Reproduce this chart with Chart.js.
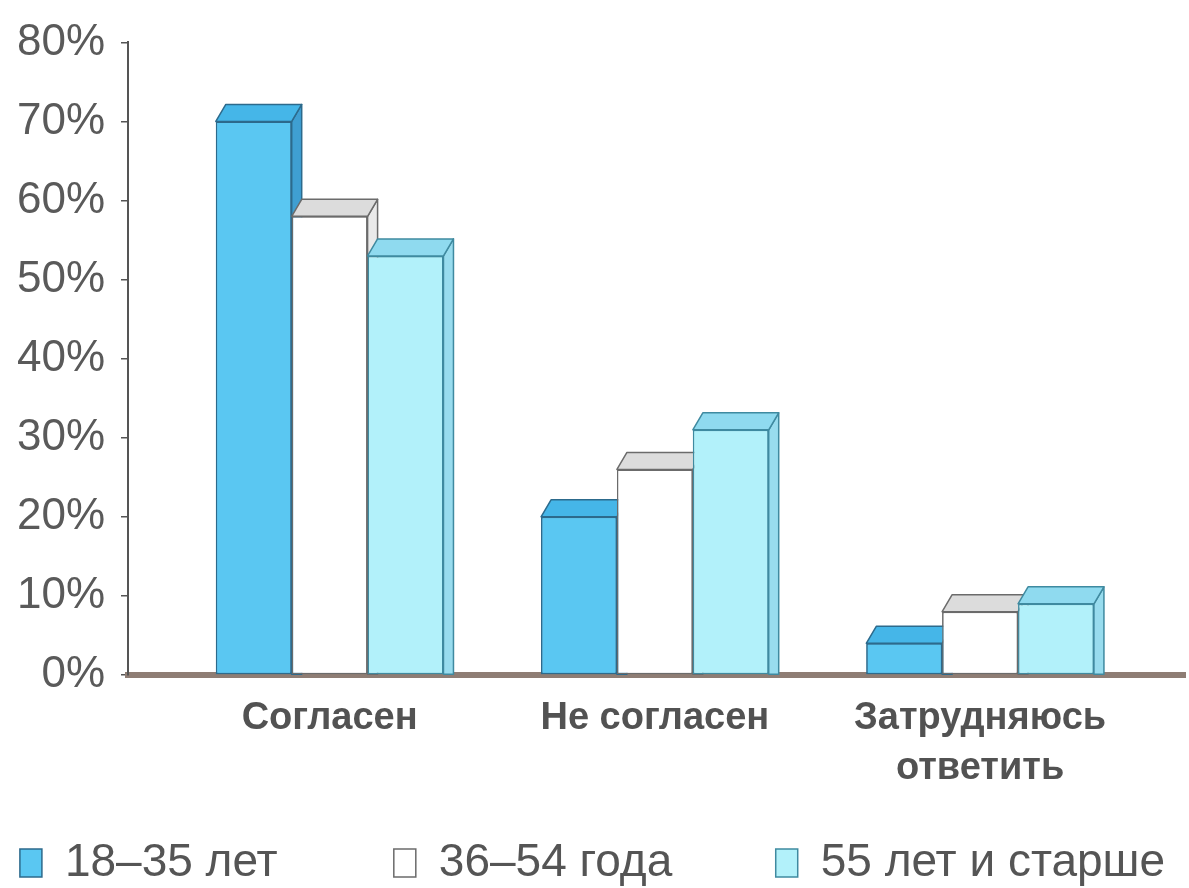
<!DOCTYPE html>
<html>
<head>
<meta charset="utf-8">
<script src="https://cdn.jsdelivr.net/npm/chart.js@4"></script>
<style>
html, body { margin: 0; padding: 0; background: #fff; }
#wrap { width: 1189px; height: 888px; }
</style>
</head>
<body>
<div id="wrap"><canvas id="myChart"></canvas></div>
<script>
// data
var categories = ['Согласен', 'Не согласен', ['Затрудняюсь', 'ответить']];
var seriesNames = ['18–35 лет', '36–54 года', '55 лет и старше'];
var age18to35 = [70, 20, 4];
var age36to54 = [58, 26, 8];
var age55plus = [53, 31, 9];
var yTicks = [0, 10, 20, 30, 40, 50, 60, 70, 80];

function points(vals) {
    return vals.map(function (v, i) { return { x: i, y: v }; });
}

// 3d look: top and side faces on each bar
var depthX = 10, depthY = 17;
var faces = [
    { top: '#45b6e8', side: '#3f9fd2' },
    { top: '#dcdcdc', side: '#eaeaea' },
    { top: '#8fdaef', side: '#98dcee' }
];
var bar3d = {
    id: 'bar3d',
    afterDatasetsDraw: function (chart) {
        var ctx = chart.ctx;
        // left to right, so each bar hides the side of the one before it
        chart.data.datasets.forEach(function (ds, i) {
            var f = faces[i];
            chart.getDatasetMeta(i).data.forEach(function (bar) {
                bar.draw(ctx);
                var p = bar.getProps(['x', 'y', 'base', 'width'], true);
                var l = p.x - p.width / 2, r = p.x + p.width / 2;
                ctx.save();
                ctx.lineWidth = 1.5;
                ctx.strokeStyle = ds.borderColor;
                ctx.lineJoin = 'round';
                //side
                ctx.beginPath();
                ctx.moveTo(r, p.y);
                ctx.lineTo(r + depthX, p.y - depthY);
                ctx.lineTo(r + depthX, p.base);
                ctx.lineTo(r, p.base);
                ctx.closePath();
                ctx.fillStyle = f.side;
                ctx.fill();
                ctx.stroke();
                //top
                ctx.beginPath();
                ctx.moveTo(l, p.y);
                ctx.lineTo(l + depthX, p.y - depthY);
                ctx.lineTo(r + depthX, p.y - depthY);
                ctx.lineTo(r, p.y);
                ctx.closePath();
                ctx.fillStyle = f.top;
                ctx.fill();
                ctx.stroke();
                ctx.restore();
            });
        });
    }
};

// legend is spread over the whole width: distance from one box to the next
var legendStep = [372, 382];
var legendFont = { family: 'Liberation Sans', size: 46 };
var legendPad = 14;

var ctx = document.getElementById('myChart').getContext('2d');

var myChart = new Chart(ctx, {
    type: 'bar',
    data: {
        datasets: [{
            label: seriesNames[0],
            data: points(age18to35),
            backgroundColor: '#5ac7f2',
            borderColor: '#2c6a8c',
            borderWidth: 1.5,
            borderSkipped: false
        }, {
            label: seriesNames[1],
            data: points(age36to54),
            backgroundColor: '#ffffff',
            borderColor: '#6b6b6b',
            borderWidth: 1.5,
            borderSkipped: false
        }, {
            label: seriesNames[2],
            data: points(age55plus),
            backgroundColor: '#b2f1fa',
            borderColor: '#3f8aa0',
            borderWidth: 1.5,
            borderSkipped: false
        }]
    },
    plugins: [bar3d],
    options: {
        responsive: true,
        maintainAspectRatio: false,
        animation: false,
        devicePixelRatio: 1,
        categoryPercentage: 0.7,
        barPercentage: 1,
        layout: { padding: { top: 32, right: 4, left: 0, bottom: 0 } },
        scales: {
            x: {
                type: 'linear',
                offset: false,
                min: -0.62,
                max: 2.63,
                afterBuildTicks: function (s) {
                    s.ticks = categories.map(function (c, i) { return { value: i }; });
                },
                afterFit: function (s) { s.height = 151; },
                grid: { display: false },
                border: { display: true, color: '#8e7d74', width: 6 },
                ticks: {
                    callback: function (v) { return categories[v]; },
                    color: '#525252',
                    padding: 11,
                    maxRotation: 0,
                    autoSkip: false,
                    font: { family: 'Liberation Sans', size: 38, weight: 'bold', lineHeight: 1.3 }
                }
            },
            y: {
                min: 0,
                max: 80,
                afterBuildTicks: function (s) {
                    s.ticks = yTicks.map(function (v) { return { value: v }; });
                },
                afterFit: function (s) { s.width = 128; },
                grid: { drawOnChartArea: false, drawTicks: true, tickLength: 7, color: '#555', lineWidth: 1.5 },
                border: { color: '#555', width: 2 },
                ticks: {
                    callback: function (v) { return v + '%'; },
                    color: '#5a5a5a',
                    padding: 16,
                    font: { family: 'Liberation Sans', size: 44 }
                }
            }
        },
        plugins: {
            tooltip: { enabled: false },
            legend: {
                position: 'bottom',
                maxHeight: 62,
                labels: {
                    boxWidth: 22,
                    boxHeight: 28,
                    padding: legendPad,
                    color: '#555',
                    font: legendFont,
                    generateLabels: function (chart) {
                        var items = Chart.defaults.plugins.legend.labels.generateLabels(chart);
                        items.sort(function (a, b) { return a.datasetIndex - b.datasetIndex; });
                        var c = chart.ctx;
                        c.save();
                        c.font = legendFont.size + 'px "' + legendFont.family + '"';
                        var sp = c.measureText(' ').width;
                        items.forEach(function (it) {
                            var step = legendStep[it.datasetIndex];
                            if (!step) return;
                            var want = step - legendPad - 22 - legendFont.size / 2;
                            var n = 0;
                            while (c.measureText(it.text).width + sp / 2 < want && n < 60) { it.text += ' '; n++; }
                        });
                        c.restore();
                        return items;
                    }
                }
            }
        }
    }
});
</script>
</body>
</html>
